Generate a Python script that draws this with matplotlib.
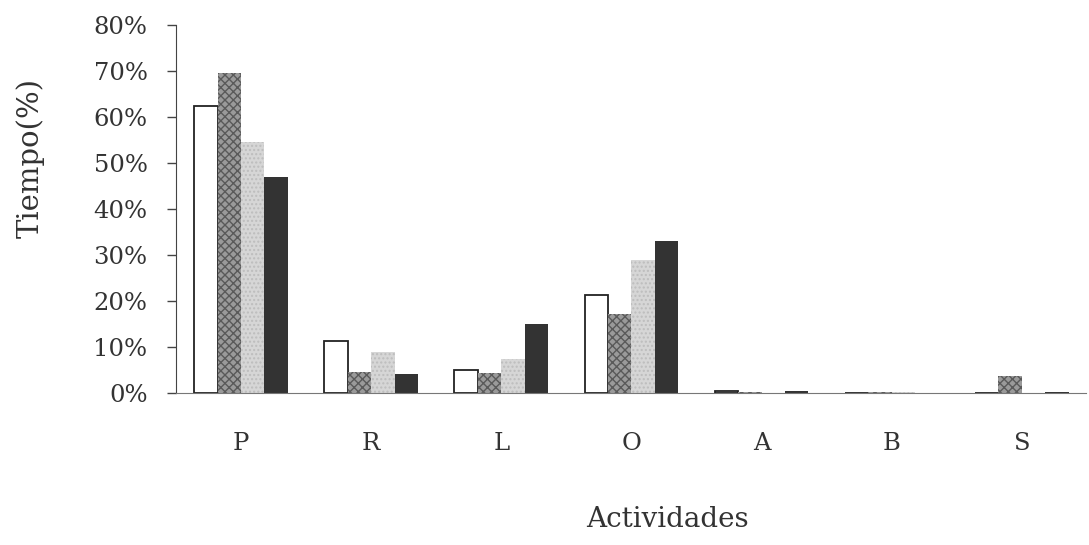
# Tiempo por actividad
import matplotlib.pyplot as plt
import numpy as np

plt.rcParams['font.family'] = ['DejaVu Serif']

actividades = ['P', 'R', 'L', 'O', 'A', 'B', 'S']
serie_1 = [62.3, 11.4, 4.9, 21.2, 0.4, 0.0, 0.0]
serie_2 = [69.5, 4.6, 4.3, 17.2, 0.2, 0.2, 3.7]
serie_3 = [54.6, 9.0, 7.3, 28.9, 0.0, 0.2, 0.0]
serie_4 = [46.9, 4.1, 15.1, 33.0, 0.4, 0.0, 0.3]
y_ticks = [0, 10, 20, 30, 40, 50, 60, 70, 80]

fig = plt.figure(figsize=(10.89, 5.45), dpi=100)
ax = fig.add_axes([0.1616, 0.279, 0.8364, 0.675])

x = np.arange(len(actividades))
w = 0.18
ax.bar(x - 1.5 * w, serie_1, w, color='white', edgecolor='#222222', linewidth=1.3)
ax.bar(x - 0.5 * w, serie_2, w, color='#9a9a9a', edgecolor='#5a5a5a',
       hatch='xxxx', linewidth=0)
ax.bar(x + 0.5 * w, serie_3, w, color='#d6d6d6', edgecolor='#bdbdbd',
       hatch='....', linewidth=0)
ax.bar(x + 1.5 * w, serie_4, w, color='#333333', linewidth=0)

ax.set_xlim(-0.5, len(actividades) - 0.5)
ax.set_ylim(0, 80)
ax.set_yticks(y_ticks)
ax.set_yticklabels([f'{t}%' for t in y_ticks], fontsize=17.5, color='#333333')
ax.set_xticks(x)
ax.set_xticklabels(actividades, fontsize=17.5, color='#333333')
ax.tick_params(axis='x', length=0, pad=28)
ax.tick_params(axis='y', length=6.5, width=1, pad=14, color='#444444')

ax.spines['top'].set_visible(False)
ax.spines['right'].set_visible(False)
ax.spines['left'].set_color('#444444')
ax.spines['bottom'].set_color('#777777')
ax.spines['bottom'].set_linestyle((0, (1, 1)))

ax.set_xlabel('Actividades', fontsize=20, color='#333333', va='center')
ax.xaxis.set_label_coords(0.54, -0.345)
ax.set_ylabel('Tiempo(%)', fontsize=21, color='#333333', va='center', ha='center')
ax.yaxis.set_label_coords(-0.160, 0.639)

plt.savefig('out.png', dpi=100)
